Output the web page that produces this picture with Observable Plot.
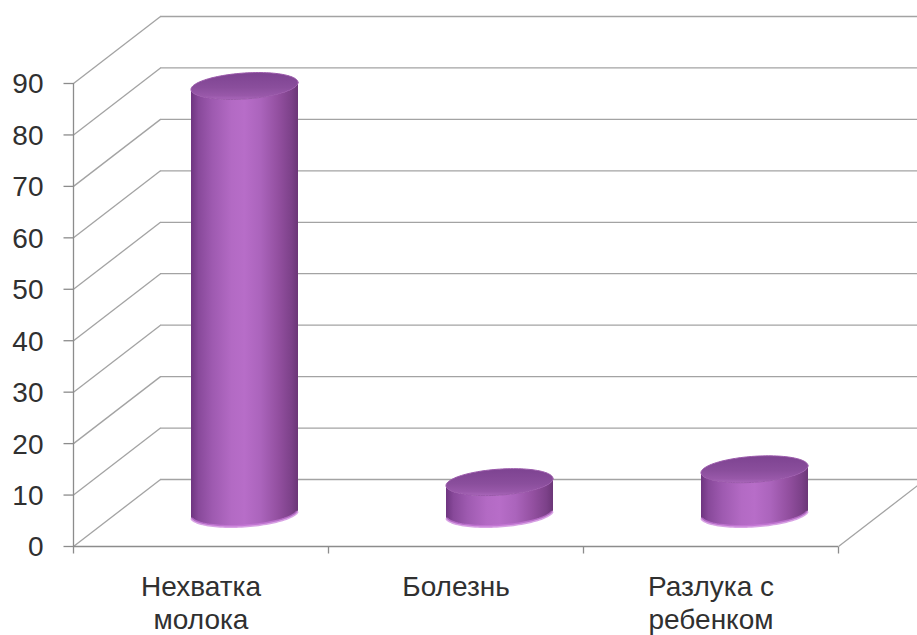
<!DOCTYPE html>
<html>
<head>
<meta charset="utf-8">
<script src="https://cdn.jsdelivr.net/npm/d3@7"></script>
<script src="https://cdn.jsdelivr.net/npm/@observablehq/plot@0.6"></script>
<style>
  html, body { margin: 0; padding: 0; background: #fff; overflow: hidden; }
  #chart svg { display: block; }
</style>
</head>
<body>
<div id="chart"></div>
<script>
// Categories and their values
const categories = ["Нехватка\nмолока", "Болезнь", "Разлука с\nребенком"];
const values = [83, 6, 8.5];
const yTicks = [0, 10, 20, 30, 40, 50, 60, 70, 80, 90];

// Layout of the front plane of the 3D box
const W = 917, H = 635;
const mL = 73, mR = 79, mT = 83, mB = 89;
const kx = categories.length / (W - mL - mR); // data units per pixel (x)
const ky = 90 / (H - mT - mB);                // data units per pixel (y)

// Oblique depth of the box, in pixels, converted to data units
const depthX = 87 * kx;
const depthY = 67 * ky;

// Cylinder footprint (pixels)
const rx = 53.5, ry = 13, tilt = 0.065;

function ellipsePoint(cx, cy, t, id) {
  const ex = rx * Math.cos(t);
  const ey = ry * Math.sin(t) - ex * tilt;
  return {id, x: cx + ex * kx, y: cy - ey * ky};
}

const bodies = [], caps = [], rims = [];
values.forEach((v, i) => {
  const cx = i + 0.5 + depthX / 2;
  const y0 = depthY / 2, y1 = v + depthY / 2;
  const n = 60;
  for (let k = 0; k <= n; k++) bodies.push(ellipsePoint(cx, y0, Math.PI * k / n, i));
  for (let k = 0; k <= n; k++) bodies.push(ellipsePoint(cx, y1, Math.PI - Math.PI * k / n, i));
  for (let k = 0; k <= 2 * n; k++) caps.push(ellipsePoint(cx, y1, Math.PI * k / n, i));
  for (let k = 4; k <= n - 4; k++) rims.push(ellipsePoint(cx, y0, Math.PI * k / n, i));
});

const grid = "#a3a3a3", axisC = "#8c8c8c", textC = "#303030";
const font = "'Liberation Sans', Arial, sans-serif";

const chart = Plot.plot({
  width: W, height: H,
  marginLeft: mL, marginRight: mR, marginTop: mT, marginBottom: mB,
  x: {domain: [0, categories.length], axis: null},
  y: {domain: [0, 90], axis: null},
  style: {fontFamily: font, overflow: "hidden", background: "#fff"},
  marks: [
    // back wall gridlines
    Plot.ruleY(yTicks, {y: d => d + depthY, x1: depthX, x2: categories.length + depthX, stroke: grid, strokeWidth: 1.3}),
    // left wall diagonals
    Plot.link(yTicks, {x1: 0, y1: d => d, x2: depthX, y2: d => d + depthY, stroke: grid, strokeWidth: 1.3}),
    // floor right edge
    Plot.link([0], {x1: categories.length, y1: 0, x2: categories.length + depthX, y2: depthY, stroke: grid, strokeWidth: 1.3}),
    // front value axis and floor edge
    Plot.ruleX([0], {y1: 0, y2: 90, stroke: axisC, strokeWidth: 1.3}),
    Plot.ruleY([0], {x1: 0, x2: categories.length, stroke: axisC, strokeWidth: 1.3}),
    // value ticks
    Plot.link(yTicks, {x1: -10 * kx, x2: 0, y1: d => d, y2: d => d, stroke: axisC, strokeWidth: 1.3}),
    // category ticks
    Plot.link(d3.range(categories.length + 1), {x1: d => d, x2: d => d, y1: 0, y2: -7 * ky, stroke: axisC, strokeWidth: 1.3}),
    // value labels
    Plot.text(yTicks, {x: 0, y: d => d, text: d => String(d), textAnchor: "end", dx: -30, dy: 1, fontSize: 28, fill: textC}),
    // category labels
    Plot.text(categories, {x: (d, i) => i + 0.5, y: 0, text: d => d, textAnchor: "middle", lineAnchor: "top", dy: 27, fontSize: 28, lineHeight: 1.15, fill: textC}),
    // cylinders
    Plot.line(bodies, {x: "x", y: "y", z: "id", fill: "url(#cylBody)", stroke: "none"}),
    Plot.line(rims, {x: "x", y: "y", z: "id", stroke: "#c77ad8", strokeWidth: 3, strokeOpacity: 0.7}),
    Plot.line(caps, {x: "x", y: "y", z: "id", fill: "url(#cylTop)", stroke: "#9a58aa", strokeWidth: 1})
  ]
});

// gradients for the cylinder shading
const svg = d3.select(chart);
const defs = svg.insert("defs", ":first-child");
const bodyGrad = defs.append("linearGradient").attr("id", "cylBody").attr("x1", 0).attr("x2", 1).attr("y1", 0).attr("y2", 0);
[[0, "#6e3580"], [0.07, "#88499a"], [0.2, "#9e5ab0"], [0.38, "#b36ac4"], [0.5, "#b76dc8"], [0.65, "#ab64bc"], [0.82, "#924f9f"], [0.94, "#7c4189"], [1, "#6b3677"]]
  .forEach(([o, c]) => bodyGrad.append("stop").attr("offset", o).attr("stop-color", c));
const capGrad = defs.append("linearGradient").attr("id", "cylTop").attr("x1", 0).attr("x2", 0).attr("y1", 0).attr("y2", 1);
[[0, "#7d4391"], [0.55, "#8a4e9c"], [0.85, "#9858a9"], [1, "#a966ba"]]
  .forEach(([o, c]) => capGrad.append("stop").attr("offset", o).attr("stop-color", c));

document.getElementById("chart").append(chart);
</script>
</body>
</html>
